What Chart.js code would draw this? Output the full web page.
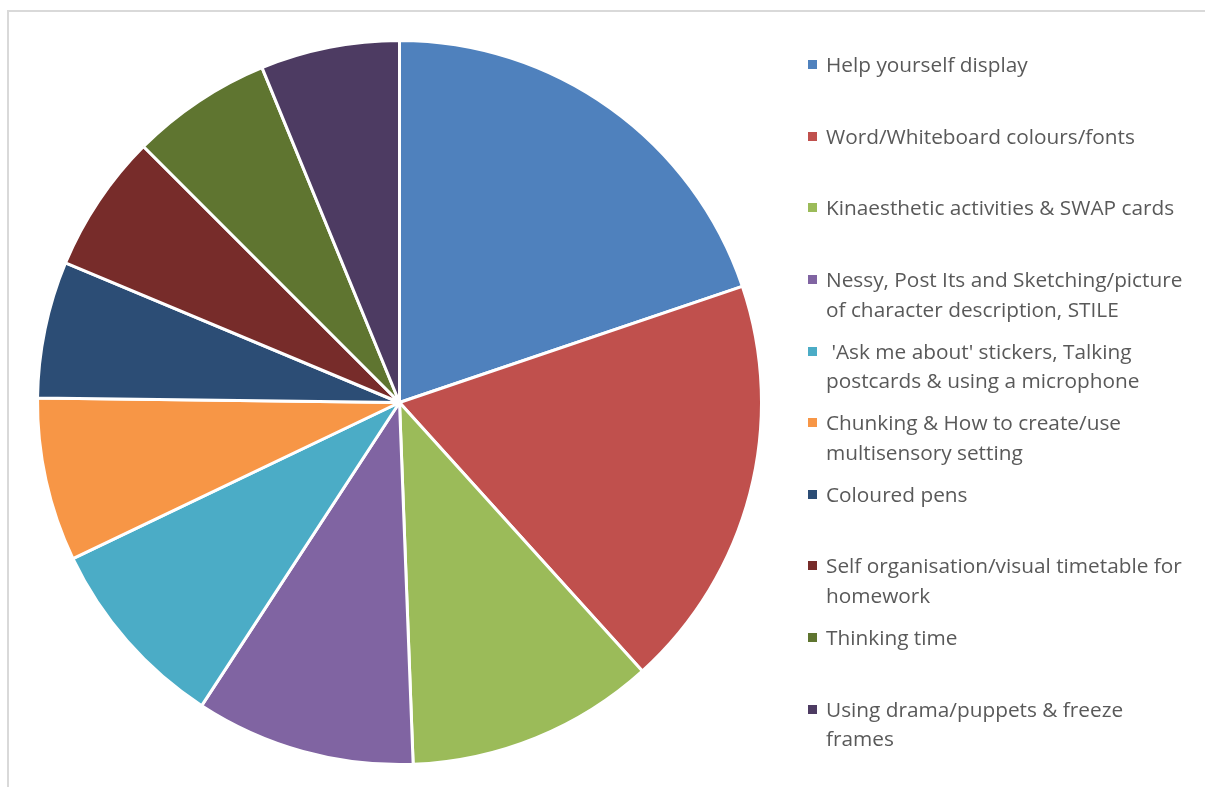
<!DOCTYPE html>
<html>
<head>
<meta charset="utf-8">
<script src="https://cdn.jsdelivr.net/npm/chart.js@4.4.1/dist/chart.umd.min.js"></script>
<style>
  html, body { margin: 0; padding: 0; background: #fff; }
  #wrap { position: relative; width: 1205px; height: 787px; overflow: hidden; }
  #frame {
    position: absolute; left: 7px; top: 10px; right: -10px; bottom: -10px;
    border-top: 2px solid #d9d9d9; border-left: 2px solid #d9d9d9;
  }
  #pieChart { position: absolute; left: 0; top: 0; }
  #legend { position: absolute; left: 0; top: 0; font-family: "Open Sans", sans-serif; font-size: 20.8px; color: #595959; }
  .item { position: absolute; left: 826px; line-height: 29.5px; white-space: pre; }
  .box { position: absolute; left: -18px; top: 10px; width: 9px; height: 9px; }
</style>
</head>
<body>
<div id="wrap">
  <div id="frame"></div>
  <canvas id="pieChart" width="1205" height="787"></canvas>
  <div id="legend"></div>
</div>
<script>
// categories (multi-line labels as arrays, like Chart.js does)
const categories = [
  "Help yourself display",
  "Word/Whiteboard colours/fonts",
  "Kinaesthetic activities & SWAP cards",
  ["Nessy, Post Its and Sketching/picture", "of character description, STILE"],
  [" 'Ask me about' stickers, Talking", "postcards & using a microphone"],
  ["Chunking & How to create/use", "multisensory setting"],
  "Coloured pens",
  ["Self organisation/visual timetable for", "homework"],
  "Thinking time",
  ["Using drama/puppets & freeze", "frames"]
];

// share of the pie (percent)
const shares = [19.8, 18.5, 11.1, 9.8, 8.7, 7.3, 6.1, 6.2, 6.3, 6.2];

const sliceColors = [
  "#4F81BD", "#C0504D", "#9BBB59", "#8064A2", "#4BACC6",
  "#F79646", "#2C4D75", "#772C2A", "#5F7530", "#4D3B62"
];

document.addEventListener("DOMContentLoaded", function() {
  const ctx = document.getElementById("pieChart").getContext("2d");

  const pieChart = new Chart(ctx, {
    type: "pie",
    data: {
      labels: categories,
      datasets: [{
        data: shares,
        backgroundColor: sliceColors,
        borderColor: "#ffffff",
        borderWidth: 3,
        radius: 362
      }]
    },
    options: {
      responsive: false,
      animation: false,
      layout: { padding: { left: 39, top: 42, right: 445, bottom: 24 } },
      plugins: {
        legend: { display: false },
        tooltip: { enabled: false }
      }
    }
  });

  // --- legend, built from the chart's own labels and colours ---
  const legend = document.getElementById("legend");
  const firstLineY = 65;   // centre of first legend line
  const step = 71.6;       // distance between entries
  pieChart.data.labels.forEach((label, i) => {
    const lines = Array.isArray(label) ? label : [label];
    const div = document.createElement("div");
    div.className = "item";
    div.style.top = (firstLineY + i * step - 14.75) + "px";
    const box = document.createElement("span");
    box.className = "box";
    box.style.background = pieChart.data.datasets[0].backgroundColor[i];
    div.appendChild(box);
    lines.forEach((t, j) => {
      if (j > 0) div.appendChild(document.createElement("br"));
      div.appendChild(document.createTextNode(t));
    });
    legend.appendChild(div);
  });
});
</script>
</body>
</html>
